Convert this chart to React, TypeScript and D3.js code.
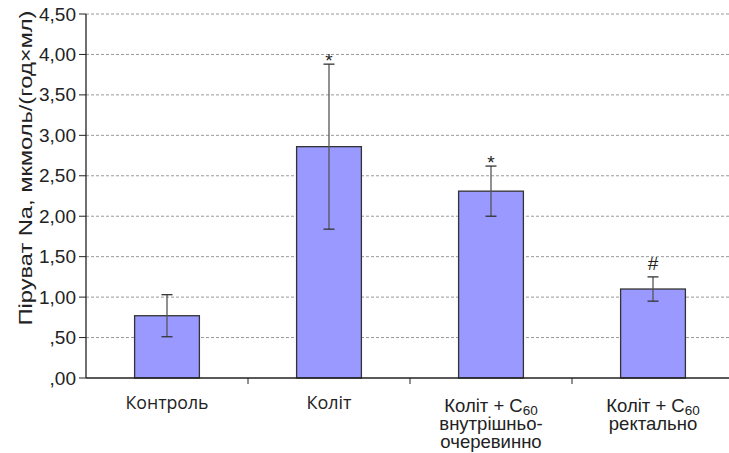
import React from "react";
import * as d3 from "d3";

const categories = ["Контроль", "Коліт", "Коліт + C60 внутрішньо-очеревинно", "Коліт + C60 ректально"];
const values = [0.77, 2.86, 2.31, 1.1];
const errors = [0.26, 1.02, 0.31, 0.15];
const marks = ["", "*", "*", "#"];
const yTicks = [0, 0.5, 1, 1.5, 2, 2.5, 3, 3.5, 4, 4.5];

const W = 729, H = 453;
const left = 86, top = 14, bottom = 378, bandW = 162;
const arial = "'Liberation Sans', Arial, sans-serif";
const humanist = "'Open Sans', 'Noto Sans', sans-serif";

const fmt = (v: number) => {
  const s = v.toFixed(2).replace(".", ",");
  return s.startsWith("0") ? s.slice(1) : s;
};

function XLabel({ i, x }: { i: number; x: number }) {
  if (i === 0) {
    return (
      <text x={x} y={409} textAnchor="middle" textLength={83} lengthAdjust="spacingAndGlyphs"
        style={{ fontFamily: humanist, fontSize: 18, fill: "#222" }}>{categories[0]}</text>
    );
  }
  if (i === 1) {
    return (
      <text x={x} y={409} textAnchor="middle" textLength={45} lengthAdjust="spacingAndGlyphs"
        style={{ fontFamily: humanist, fontSize: 18, fill: "#222" }}>{categories[1]}</text>
    );
  }
  const style = { fontFamily: arial, fontSize: 18.5, fill: "#222" } as const;
  const line2 = i === 2 ? ["внутрішньо-", "очеревинно"] : ["ректально"];
  return (
    <g>
      <text x={x} y={412} textAnchor="middle" style={style}>
        Коліт + C<tspan fontSize={13.5} dy={3}>60</tspan>
      </text>
      {line2.map((l, k) => (
        <text key={k} x={x} y={430 + k * 17.5} textAnchor="middle" style={style}>{l}</text>
      ))}
    </g>
  );
}

export default function App() {
  const y = d3.scaleLinear().domain([0, 4.5]).range([bottom, top]);
  const x = d3.scaleBand<number>().domain(d3.range(categories.length)).range([left, left + bandW * categories.length]).paddingInner(0).paddingOuter(0);
  const bw = x.bandwidth() * 0.4;
  return (
    <svg width={W} height={H} style={{ position: "absolute", left: 0, top: 0, background: "#fff" }}>
      {yTicks.map((t) => (
        <g key={t}>
          {t > 0 && (
            <line x1={left} x2={W} y1={y(t)} y2={y(t)} stroke="#999" strokeWidth={1} strokeDasharray="3,2" />
          )}
          <line x1={left - 7} x2={left} y1={y(t)} y2={y(t)} stroke="#222" />
          <text x={76} y={y(t) + 6.5} textAnchor="end" style={{ fontFamily: arial, fontSize: 19, fill: "#222" }}>
            {fmt(t)}
          </text>
        </g>
      ))}
      <text
        transform={`translate(32,168) rotate(-90)`}
        textAnchor="middle"
        textLength={315}
        lengthAdjust="spacingAndGlyphs"
        style={{ fontFamily: arial, fontSize: 18, fill: "#222" }}
      >
        Піруват Na, мкмоль/(год×мл)
      </text>
      {values.map((v, i) => {
        const cx = x(i)! + x.bandwidth() / 2;
        const e = errors[i];
        return (
          <g key={i}>
            <rect x={cx - bw / 2} y={y(v)} width={bw} height={bottom - y(v)} fill="#9999ff" stroke="#333" strokeWidth={1.3} />
            <line x1={cx} x2={cx} y1={y(v + e)} y2={y(v - e)} stroke="#555" strokeWidth={1.3} />
            <line x1={cx - 5.5} x2={cx + 5.5} y1={y(v + e)} y2={y(v + e)} stroke="#333" strokeWidth={1.3} />
            <line x1={cx - 5.5} x2={cx + 5.5} y1={y(v - e)} y2={y(v - e)} stroke="#333" strokeWidth={1.3} />
            {marks[i] && (
              <text x={cx} y={y(v + e) - (marks[i] === "#" ? 7 : -3)} textAnchor="middle" style={{ fontFamily: arial, fontSize: 19, fill: "#222" }}>
                {marks[i]}
              </text>
            )}
            <XLabel i={i} x={cx} />
          </g>
        );
      })}
      <line x1={left} x2={left} y1={top} y2={bottom} stroke="#222" strokeWidth={1.3} />
      <line x1={left} x2={W} y1={bottom} y2={bottom} stroke="#222" strokeWidth={1.3} />
      {d3.range(1, categories.length).map((k) => (
        <line key={k} x1={left + k * bandW} x2={left + k * bandW} y1={bottom} y2={bottom + 6} stroke="#222" />
      ))}
    </svg>
  );
}
